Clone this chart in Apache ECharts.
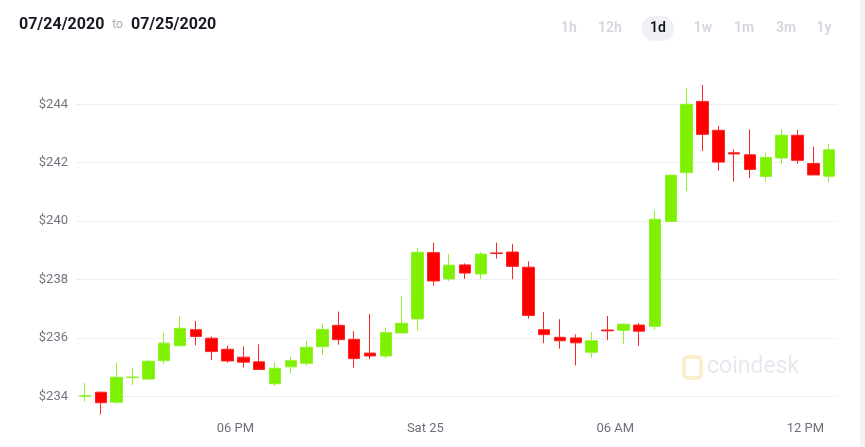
<!DOCTYPE html>
<html>
<head>
<meta charset="utf-8">
<title>ETH 07/24/2020 - 07/25/2020</title>
<script src="https://cdn.jsdelivr.net/npm/echarts@6/dist/echarts.min.js"></script>
<style>
  * { margin: 0; padding: 0; box-sizing: border-box; }
  html, body { width: 865px; height: 447px; background: #fff; overflow: hidden; }
  #chart { width: 865px; height: 447px; }
</style>
</head>
<body>
<div id="chart"></div>
<script>
// 30 min candles, stamped at the middle of each period
var times = [
  '2020-07-24 13:15', '2020-07-24 13:45', '2020-07-24 14:15', '2020-07-24 14:45',
  '2020-07-24 15:15', '2020-07-24 15:45', '2020-07-24 16:15', '2020-07-24 16:45',
  '2020-07-24 17:15', '2020-07-24 17:45', '2020-07-24 18:15', '2020-07-24 18:45',
  '2020-07-24 19:15', '2020-07-24 19:45', '2020-07-24 20:15', '2020-07-24 20:45',
  '2020-07-24 21:15', '2020-07-24 21:45', '2020-07-24 22:15', '2020-07-24 22:45',
  '2020-07-24 23:15', '2020-07-24 23:45', '2020-07-25 00:15', '2020-07-25 00:45',
  '2020-07-25 01:15', '2020-07-25 01:45', '2020-07-25 02:15', '2020-07-25 02:45',
  '2020-07-25 03:15', '2020-07-25 03:45', '2020-07-25 04:15', '2020-07-25 04:45',
  '2020-07-25 05:15', '2020-07-25 05:45', '2020-07-25 06:15', '2020-07-25 06:45',
  '2020-07-25 07:15', '2020-07-25 07:45', '2020-07-25 08:15', '2020-07-25 08:45',
  '2020-07-25 09:15', '2020-07-25 09:45', '2020-07-25 10:15', '2020-07-25 10:45',
  '2020-07-25 11:15', '2020-07-25 11:45', '2020-07-25 12:15', '2020-07-25 12:45'
];
var opens = [
  234.00, 234.14, 233.80, 234.64, 234.59, 235.22, 235.73, 236.28, 235.99, 235.61, 235.34, 235.18,
  234.43, 235.01, 235.13, 235.70, 236.43, 235.95, 235.48, 235.38, 236.17, 236.65, 238.92, 238.02,
  238.50, 238.19, 238.91, 238.94, 238.42, 236.28, 236.02, 236.00, 235.51, 236.27, 236.26, 236.44,
  236.40, 239.99, 241.66, 244.10, 243.11, 242.34, 242.27, 241.53, 242.16, 242.94, 241.97, 241.54
];
var closes = [
  234.02, 233.78, 234.65, 234.66, 235.20, 235.82, 236.33, 236.05, 235.53, 235.21, 235.17, 234.92,
  234.96, 235.22, 235.68, 236.29, 235.94, 235.29, 235.38, 236.18, 236.50, 238.93, 237.95, 238.49,
  238.22, 238.87, 238.89, 238.45, 236.77, 236.11, 235.90, 235.83, 235.90, 236.24, 236.47, 236.23,
  240.06, 241.57, 244.00, 242.97, 242.02, 242.30, 241.77, 242.18, 242.94, 242.08, 241.58, 242.44
];
var lows = [
  233.82, 233.38, 233.74, 234.39, 234.57, 235.10, 235.72, 235.75, 235.24, 235.15, 234.98, 234.92,
  234.36, 234.79, 235.05, 235.42, 235.77, 234.98, 235.27, 235.29, 236.16, 236.25, 237.79, 237.95,
  238.02, 238.01, 238.71, 238.01, 236.66, 235.82, 235.63, 235.06, 235.32, 235.92, 235.78, 235.73,
  236.28, 239.99, 241.03, 242.40, 241.73, 241.35, 241.48, 241.35, 241.96, 241.96, 241.58, 241.33
];
var highs = [
  234.45, 234.16, 235.16, 234.96, 235.24, 236.17, 236.75, 236.58, 236.05, 235.73, 235.71, 235.78,
  235.16, 235.35, 235.90, 236.49, 236.90, 236.23, 236.82, 236.35, 237.43, 239.07, 239.26, 238.87,
  238.55, 238.94, 239.26, 239.22, 238.62, 236.89, 236.64, 236.12, 236.20, 236.75, 236.49, 236.51,
  240.37, 241.61, 244.55, 244.66, 243.26, 242.46, 243.14, 242.34, 243.15, 243.12, 242.55, 242.64
];
var tickTimes = ['2020-07-24 18:00', '2020-07-25 00:00', '2020-07-25 06:00', '2020-07-25 12:00'];
var ranges = ['1h', '12h', '1d', '1w', '1m', '3m', '1y'];
var activeRange = '1d';

var chart = echarts.init(document.getElementById('chart'));

// x is in hours since 07/24 00:00
var base = echarts.time.parse('2020-07-24 00:00').getTime();
function toHours(s) {
  return (echarts.time.parse(s).getTime() - base) / 3600000;
}

var candles = [];
times.forEach(function (t, i) {
  candles.push([toHours(t), opens[i], closes[i], lows[i], highs[i]]);
});

// 時間ラベル
function timeLabel(value) {
  var d = new Date(base + value * 3600000);
  var h = d.getHours();
  if (h === 0) {
    return ['Sun', 'Mon', 'Tue', 'Wed', 'Thu', 'Fri', 'Sat'][d.getDay()] + ' ' + d.getDate();
  }
  var h12 = h % 12 === 0 ? 12 : h % 12;
  return (h12 < 10 ? '0' : '') + h12 + (h < 12 ? ' AM' : ' PM');
}

// range buttons at top right
var btnX = [569, 610, 658, 703, 744, 786, 824];
var buttons = [];
ranges.forEach(function (r, i) {
  if (r === activeRange) {
    buttons.push({
      type: 'rect',
      shape: { x: btnX[i] - 16, y: 16, width: 32, height: 25, r: 12 },
      style: { fill: '#eff1f7' }
    });
  }
  buttons.push({
    type: 'text',
    x: btnX[i],
    y: 28,
    style: {
      text: r,
      fill: r === activeRange ? '#15171f' : '#d3d6de',
      font: '600 14px Roboto',
      align: 'center',
      verticalAlign: 'middle'
    }
  });
});

chart.setOption({
  animation: false,
  grid: { left: 77, right: 28, top: 60, bottom: 31 },
  graphic: [
    {
      type: 'text',
      x: 19,
      y: 25,
      style: {
        text: '{d|07/24/2020}{t|to}{d|07/25/2020}',
        verticalAlign: 'middle',
        rich: {
          d: { font: 'bold 16px Roboto', fill: '#161821' },
          t: { font: '12px Roboto', fill: '#a9acb6', padding: [0, 8, 0, 8] }
        }
      }
    },
    // coindesk watermark
    {
      type: 'rect',
      shape: { x: 684, y: 357, width: 17, height: 21, r: 4 },
      style: { fill: 'none', stroke: '#fbeecd', lineWidth: 4 },
      z: 0
    },
    {
      type: 'text',
      x: 707,
      y: 367,
      style: { text: 'coindesk', font: '23px Roboto', fill: '#e8e9ee', verticalAlign: 'middle' },
      z: 0
    },
    {
      type: 'rect',
      shape: { x: 860, y: 0, width: 5, height: 447 },
      style: { fill: '#f1f3f8' }
    }
  ].concat(buttons),
  xAxis: {
    type: 'value',
    min: toHours('2020-07-24 13:00'),
    max: toHours('2020-07-25 13:00'),
    axisLine: { show: false },
    axisTick: { show: false },
    splitLine: { show: false },
    axisLabel: {
      customValues: tickTimes.map(toHours),
      formatter: timeLabel,
      color: '#6d707a',
      fontFamily: 'Roboto',
      fontSize: 13,
      margin: 6,
      hideOverlap: false
    }
  },
  yAxis: {
    type: 'value',
    min: 233.325,
    max: 245.517,
    splitNumber: 6,
    scale: true,
    axisLine: { show: false },
    axisTick: { show: false },
    axisLabel: {
      formatter: function (v) { return '$' + v; },
      color: '#72757f',
      fontFamily: 'Roboto',
      fontSize: 13,
      margin: 9,
      showMinLabel: false,
      showMaxLabel: false
    },
    splitLine: {
      showMinLine: false,
      showMaxLine: false,
      lineStyle: { color: '#dde0ea', type: 'dotted', width: 1 }
    }
  },
  series: [
    {
      type: 'candlestick',
      data: candles,
      barWidth: 12,
      clip: false,
      itemStyle: {
        color: '#7ef000',
        color0: '#ff0000',
        borderColor: '#8ef227',
        borderColor0: '#ff2525',
        borderWidth: 1
      }
    }
  ]
});
</script>
</body>
</html>
